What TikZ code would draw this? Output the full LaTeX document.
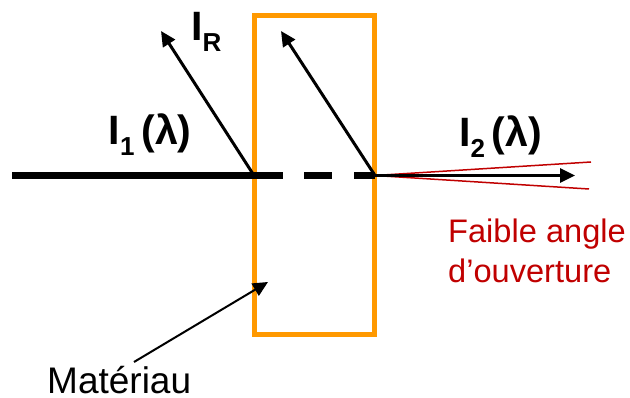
\documentclass[tikz,border=0pt]{standalone}
\usepackage{fontspec}
\setmainfont{Liberation Sans}
\usetikzlibrary{arrows.meta, positioning}

\definecolor{redline}{RGB}{192,0,0}
\definecolor{slab}{RGB}{255,153,0}
\newcommand{\subtxt}[1]{\raisebox{-11pt}{\fontsize{26}{26}\selectfont #1}}

\begin{document}
\begin{tikzpicture}[
    x=1pt, y=-1pt,
    >={Triangle[length=15pt, width=14pt]},
    plain/.style={inner sep=0pt, anchor=base west, font=\fontsize{37}{37}\selectfont},
    sym/.style={inner sep=0pt, anchor=base west, font=\bfseries\fontsize{41}{41}\selectfont},
    note/.style={inner sep=0pt, anchor=base west, align=left, text=redline, font=\fontsize{32.6}{40}\selectfont},
    ray/.style={line width=3pt},
    beam/.style={line width=7pt},
    spread/.style={line width=1.5pt, draw=redline}
  ]
    \useasboundingbox (0,0) rectangle (630,398);

    % material
    \node[draw=slab, line width=5pt, minimum width=120pt, minimum height=319.5pt, inner sep=0pt, outer sep=0pt, anchor=north west] (mat) at (254.5,15.5) {};

    \coordinate (start) at (12,175.5);
    \coordinate (front) at (254,175.5);
    \coordinate (back) at (375,175.5);
    \coordinate (frontend) at (283,175.5);
    \coordinate (d1a) at (304,175.5);
    \coordinate (d1b) at (332,175.5);
    \coordinate (d2a) at (354,175.5);
    \coordinate (backtop) at (281,31);
    \coordinate (fronttop) at (161,31);
    \coordinate (out) at (575,175.5);
    \coordinate (rup) at (591,162);
    \coordinate (rdown) at (589,189);
    \coordinate (mattip) at (268,282);

    \draw[beam] (start) -- (frontend);
    \draw[beam] (d1a) -- (d1b);
    \draw[beam] (d2a) -- (back);
    \draw[->, ray] (front) -- (fronttop);
    \draw[->, ray] (back) -- (backtop);
    \draw[spread] (back) -- (rup);
    \draw[spread] (back) -- (rdown);
    \draw[->, ray] (back) -- (out);

    \node[sym] (i1) at (108.5,145) {I\subtxt{1}\,(λ)};
    \node[sym] (i2) at (459,147) {I\subtxt{2}\,(λ)};
    \node[sym] (ir) at (191,41) {I\subtxt{R}};
    \node[note] (faible) at (448,283) {Faible angle\\d’ouverture};
    \node[plain] (matlabel) at (47,393.5) {Matériau};
    \coordinate (matfoot) at (134,362);
    \draw[->, line width=2pt] (matfoot) -- (mattip);
  \end{tikzpicture}
\end{document}
